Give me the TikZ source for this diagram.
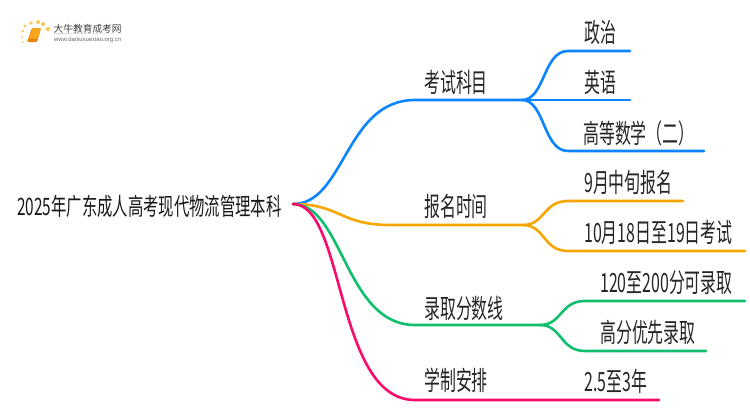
\documentclass[tikz,border=0pt]{standalone}
\usepackage{fontspec}
\setmainfont{Noto Sans CJK SC}[FakeStretch=0.6]
\newfontfamily\rootf{Noto Sans CJK SC}[FakeStretch=0.64]
\newfontfamily\logof{Noto Sans CJK SC}
\newfontfamily\latinf{Liberation Sans}
\definecolor{cblue}{HTML}{0A84FF}
\definecolor{corange}{HTML}{F7A600}
\definecolor{cgreen}{HTML}{0FBF6E}
\definecolor{cpink}{HTML}{FA0A6A}
\definecolor{bookA}{HTML}{F9A51E}
\definecolor{bookB}{HTML}{E8830C}
\definecolor{dotc}{HTML}{FBCB62}
\begin{document}
\begin{tikzpicture}[x=1pt,y=-1pt,
  lbl/.style={inner sep=0pt,anchor=base west,font=\fontsize{26.5pt}{30pt}\selectfont,text=black!85},
  rootlbl/.style={inner sep=0pt,anchor=base west,font=\rootf\fontsize{24pt}{28pt}\selectfont,text=black!90},
  br/.style={line width=2.6pt,line cap=round,line join=round},
  dotn/.style={circle,fill=dotc,inner sep=0pt,minimum size=#1}]
\useasboundingbox (0,0) rectangle (750,410);
\fill[white] (0,0) rectangle (750,410);
% logo
\node[dotn=2pt] (d0) at (23,42) {};
\node[dotn=2.2pt] (d1) at (22,37) {};
\node[dotn=2.6pt] (d2) at (23,31) {};
\node[dotn=3.2pt] (d3) at (25,26) {};
\node[dotn=3.8pt] (d4) at (31,23) {};
\node[dotn=4pt] (d5) at (38,22) {};
\node[dotn=4.2pt] (d6) at (43,24) {};
\node[dotn=4.5pt] (d7) at (48,29) {};
\fill[bookB,rounded corners=1pt] (32,28) -- (41,28) -- (37,42) -- (27,42) -- cycle;
\fill[bookA,rounded corners=1pt] (33,28) -- (41,28) -- (38,38.5) -- (29,38.5) -- cycle;
\shade[left color=black!18,right color=white] (55,33.2) rectangle (134,33.8);
\node[inner sep=0pt,anchor=base west,font=\logof\fontsize{9.7pt}{10pt}\selectfont,text=black!75] (logotitle) at (53.5,32.5) {大牛教育成考网};
\node[inner sep=0pt,anchor=base west,font=\latinf\fontsize{5.9pt}{7pt}\selectfont,text=black!60] (logourl) at (54,41.5) {www.daniuxuexiao.org.cn};
% labels
\node[rootlbl] (root) at (17,215) {2025年广东成人高考现代物流管理本科};
\node[lbl] (a) at (424,92) {考试科目};
\node[lbl] (b) at (424,216) {报名时间};
\node[lbl] (c) at (424,318) {录取分数线};
\node[lbl] (d) at (424,390) {学制安排};
\node[lbl] (a1) at (584,42) {政治};
\node[lbl] (a2) at (584,92) {英语};
\node[lbl] (a3) at (583,143) {高等数学（二）};
\node[lbl] (b1) at (584,192) {9月中旬报名};
\node[lbl] (b2) at (584,242) {10月18日至19日考试};
\node[lbl] (c1) at (600,292) {120至200分可录取};
\node[lbl] (c2) at (600,342) {高分优先录取};
\node[lbl] (d1t) at (584,391) {2.5至3年};
% anchors
\coordinate (o) at (293,204);
\coordinate (ja) at (522,100);
\coordinate (jb) at (523,225);
\coordinate (jc) at (540,325);
\coordinate (ea1) at (630,51);
\coordinate (ea2) at (630,100);
\coordinate (ea3) at (704,151);
\coordinate (eb1) at (683,201);
\coordinate (eb2) at (745,251);
\coordinate (ec1) at (745,301);
\coordinate (ec2) at (706,351);
\coordinate (ed) at (659,400);
% main branches
\draw[br,cblue] (o) .. controls (345,204) and (345,100) .. (415,100) -- (ja);
\draw[br,corange] (o) .. controls (340,204) and (340,225) .. (390,225) -- (jb);
\draw[br,cgreen] (o) .. controls (343,204) and (345,325) .. (415,325) -- (jc);
\draw[br,cpink] (o) .. controls (345,204) and (335,400) .. (415,400) -- (ed);
% sub-branches
\draw[br,cblue] (ja) .. controls (545,100) and (543,51) .. (568,51) -- (ea1);
\draw[br,cblue] (ja) -- (ea2);
\draw[br,cblue] (ja) .. controls (545,100) and (543,151) .. (568,151) -- (ea3);
\draw[br,corange] (jb) .. controls (545,225) and (543,201) .. (568,201) -- (eb1);
\draw[br,corange] (jb) .. controls (545,225) and (543,251) .. (568,251) -- (eb2);
\draw[br,cgreen] (jc) .. controls (562,325) and (560,301) .. (585,301) -- (ec1);
\draw[br,cgreen] (jc) .. controls (562,325) and (560,351) .. (585,351) -- (ec2);
\end{tikzpicture}
\end{document}
